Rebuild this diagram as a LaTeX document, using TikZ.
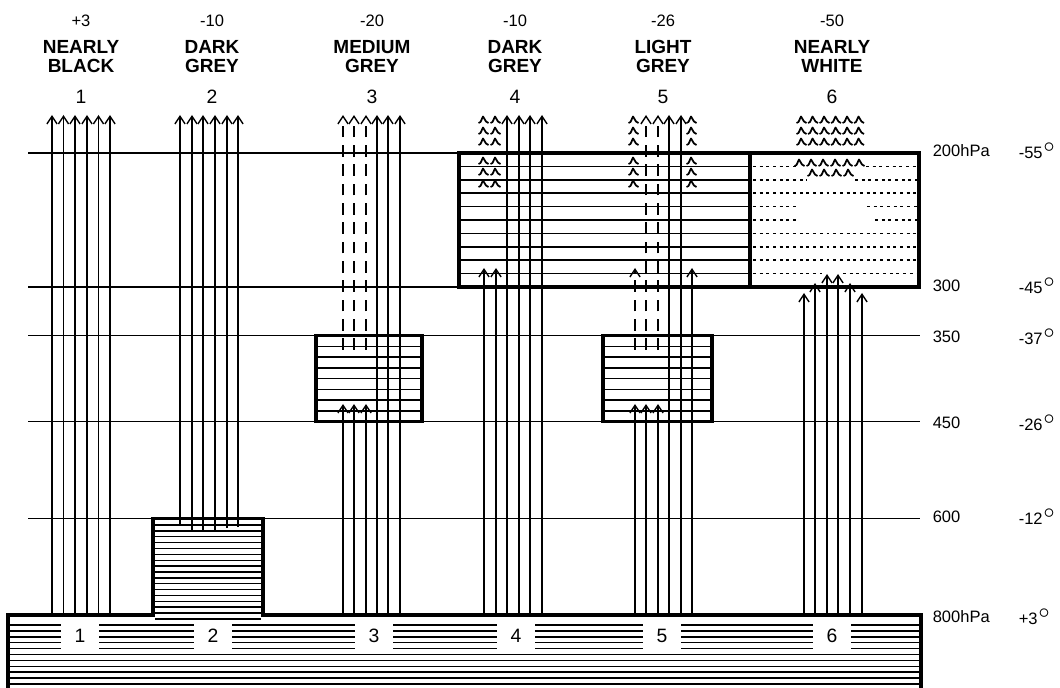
\documentclass[tikz,border=0pt]{standalone}
\usepackage{fontspec}
\setmainfont{Liberation Sans}
\usetikzlibrary{arrows.meta}

\begin{document}
\begin{tikzpicture}[
  x=0.01cm, y=-0.01cm,
  line width=0.4pt,
  ray/.style={-{Straight Barb[length=2.2pt,width=2.9pt]}},
  dashray/.style={ray, dash pattern=on 3.3pt off 2.2pt},
  boxline/.style={line width=0.9pt},
  dotrow/.style={dash pattern=on 0.85pt off 1.05pt},
  lvllabel/.style={font=\fontsize{4.7}{5.6}\selectfont, inner sep=0.3pt, anchor=west},
  colname/.style={font=\fontsize{5.4}{5.4}\selectfont\bfseries, align=center, inner sep=0pt},
  colnum/.style={font=\fontsize{5.5}{6}\selectfont, inner sep=0pt},
  pics/emit/.style={code={
      \draw[line width=0.5pt, line join=round]
        (-5.5,3) -- (-3.5,2) -- (-1,-3.5) -- (2,1.5) -- (4.5,3);}},
  ]
  \useasboundingbox (0,0) rectangle (1060,688);

  % pressure levels
  \foreach \y in {153,287,335.5,421.7,518.5}
    \draw (28,\y) -- (920,\y);
  \foreach \y/\p/\t/\n in {151/200hPa/-55/a, 286/300/-45/b, 337/350/-37/c,
      423/450/-26/d, 517/600/-12/e, 617/800hPa/+3/f}{
    \node[lvllabel] (plabel\n) at (931,\y) {\p};
    \node[lvllabel] (tlabel\n) at (1017,\y) {\t$^{\circ}$};
  }

  % column headings
  \foreach \x/\t/\a/\b/\n in {81/+3/NEARLY/BLACK/1, 212/-10/DARK/GREY/2,
      372/-20/MEDIUM/GREY/3, 515/-10/DARK/GREY/4, 663/-26/LIGHT/GREY/5,
      832/-50/NEARLY/WHITE/6}{
    \node[lvllabel, anchor=center] (temp\n) at (\x,21) {\t};
    \node[colname] (name\n) at (\x,56.5) {\a\\\b};
    \node[colnum] (num\n) at (\x,97) {\n};
  }

  % ground
  \draw[boxline] (8,688) -- (8,615) -- (153,615) -- (153,518.5) -- (263,518.5)
    -- (263,615) -- (921,615) -- (921,688);
  \foreach \i in {0,...,16}
    \draw (155,{525+5.87*\i}) -- (261,{525+5.87*\i});
  \foreach \i in {5,...,10}
    \draw (10,{625+5.9*\i}) -- (919,{625+5.9*\i});
  \foreach \i in {0,...,4}
    \foreach \a/\b in {10/61, 99/194, 232/355, 393/497, 535/643, 681/813, 851/919}
      \draw (\a,{625+5.9*\i}) -- (\b,{625+5.9*\i});
  \foreach \x/\n in {80/1, 213/2, 374/3, 516/4, 662/5, 832/6}
    \node[colnum] (gnum\n) at (\x,636) {\n};

  % middle clouds
  \foreach \l/\r in {316/422, 603/712}{
    \draw[boxline] (\l,335.5) rectangle (\r,421.7);
    \foreach \i in {1,...,7}
      \draw (\l,{335.5+10.78*\i}) -- (\r,{335.5+10.78*\i});
  }

  % high cloud
  \draw[boxline] (459,153) rectangle (919,287);
  \draw[boxline] (750,153) -- (750,287);
  \foreach \i in {1,...,9}
    \draw (459,{153+13.4*\i}) -- (750,{153+13.4*\i});
  \foreach \k/\a/\b in {1/753/797, 1/866/917, 2/753/807, 2/855/917, 3/753/917,
      4/753/798, 4/867/917, 5/753/798, 5/875/917, 6/753/917, 7/753/917,
      8/753/917, 9/753/822, 9/843/917}
    \draw[dotrow] (\a,{153+13.4*\k}) -- (\b,{153+13.4*\k});

  % column 1
  \foreach \x in {52,63.5,75,87,98.5,110}
    \draw[ray] (\x,615) -- (\x,115);
  % column 2
  \foreach \x/\y in {180/525, 192/530, 203/530, 215/530, 227/528, 238/527}
    \draw[ray] (\x,\y) -- (\x,115);
  % column 3
  \foreach \x in {343,354,366}{
    \draw[ray] (\x,615) -- (\x,404);
    \draw[dashray] (\x,350) -- (\x,115);
  }
  \foreach \x in {377,388,400}
    \draw[ray] (\x,615) -- (\x,115);
  % column 4
  \foreach \x in {484,496}
    \draw[ray] (\x,615) -- (\x,268);
  \foreach \x in {507,519,530,542}
    \draw[ray] (\x,615) -- (\x,115);
  % column 5
  \foreach \x in {635,646,658}
    \draw[ray] (\x,615) -- (\x,404);
  \draw[dashray] (635,350) -- (635,268);
  \foreach \x in {646,658}
    \draw[dashray] (\x,350) -- (\x,115);
  \foreach \x in {669,681}
    \draw[ray] (\x,615) -- (\x,115);
  \draw[ray] (692,615) -- (692,268);
  % column 6
  \foreach \x/\y in {804/293, 815/283, 827/274, 838/274, 850/283, 862/293}
    \draw[ray] (\x,615) -- (\x,\y);

  % emitted from the high cloud
  \foreach \x in {484,496,634,692}
    \foreach \y in {120,131,142,161,172,184}
      \pic at (\x,\y) {emit};
  \foreach \x in {802,813.5,825,836.5,848,859.5}
    \foreach \y in {120,131,142}
      \pic at (\x,\y) {emit};
  \foreach \x in {800,812,824,836,848,860}
    \pic at (\x,163) {emit};
  \foreach \x in {813,825,837,849}
    \pic at (\x,173) {emit};
\end{tikzpicture}
\end{document}
